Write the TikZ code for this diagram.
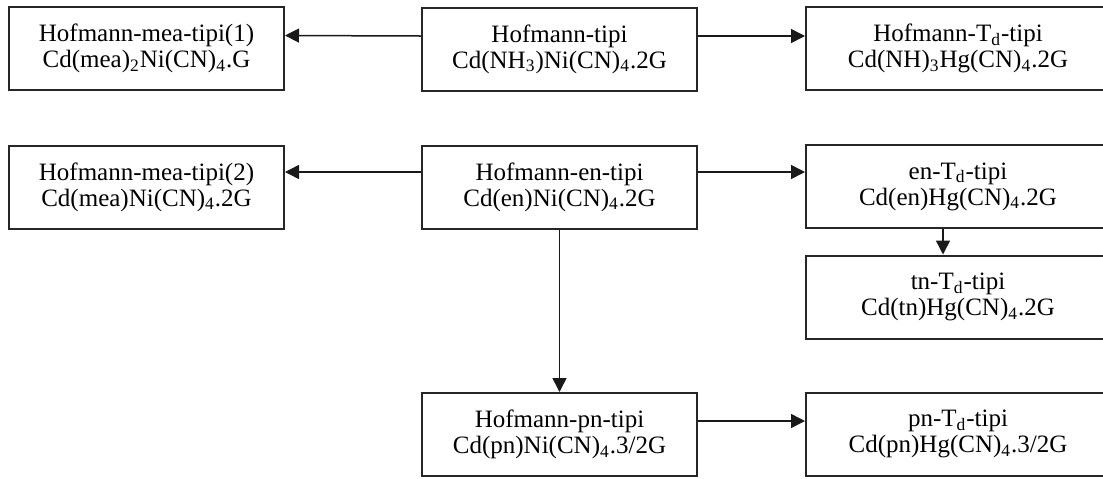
\documentclass[tikz,border=0pt]{standalone}
\usepackage{fontspec}
\setmainfont{Liberation Serif}
\usetikzlibrary{arrows.meta}
\begin{document}
\begin{tikzpicture}[x=0.5pt,y=-0.5pt,
  box/.style={draw=black!85, line width=1pt, fill=white, align=center,
    font=\fontsize{12.5pt}{13pt}\selectfont, inner sep=0pt,
    minimum width=137.5pt, minimum height=41.5pt},
  wbox/.style={box, minimum width=152pt},
  arr/.style={line width=0.75pt, draw=black!90,
    -{Triangle[length=7pt,width=7pt]}}]
\useasboundingbox (0,0) rectangle (1103,478);
\clip (0,0) rectangle (1103,478);
\fill[white] (0,0) rectangle (1103,478);

% first row
\node[box]  (mea1) at (146.5,48.5) {Hofmann-mea-tipi(1)\\Cd(mea)\textsubscript{2}Ni(CN)\textsubscript{4}.G};
\node[box]  (hof)  at (559.5,49)   {Hofmann-tipi\\Cd(NH\textsubscript{3})Ni(CN)\textsubscript{4}.2G};
\node[wbox] (hoftd) at (958,48.5)  {Hofmann-T\textsubscript{d}-tipi\\Cd(NH)\textsubscript{3}Hg(CN)\textsubscript{4}.2G};

% second row
\node[box]  (mea2) at (146.5,187)  {Hofmann-mea-tipi(2)\\Cd(mea)Ni(CN)\textsubscript{4}.2G};
\node[box]  (en)   at (559.5,187)  {Hofmann-en-tipi\\Cd(en)Ni(CN)\textsubscript{4}.2G};
\node[wbox] (entd) at (958,186.5)  {en-T\textsubscript{d}-tipi\\Cd(en)Hg(CN)\textsubscript{4}.2G};
\node[wbox] (tntd) at (958,297)    {tn-T\textsubscript{d}-tipi\\Cd(tn)Hg(CN)\textsubscript{4}.2G};

% bottom row
\node[box]  (pn)   at (559.5,434.5) {Hofmann-pn-tipi\\Cd(pn)Ni(CN)\textsubscript{4}.3/2G};
\node[wbox] (pntd) at (958,434)     {pn-T\textsubscript{d}-tipi\\Cd(pn)Hg(CN)\textsubscript{4}.3/2G};

% connectors
\draw[arr] ([yshift=6.5pt]hof.west) -- ([yshift=6.5pt]mea1.east);
\draw[arr] ([yshift=6.5pt]hof.east) -- ([yshift=6.5pt]hof.east -| hoftd.west);
\draw[arr] ([yshift=7.5pt]en.west) -- ([yshift=7.5pt]en.west -| mea2.east);
\draw[arr] ([yshift=7.5pt]en.east) -- ([yshift=7.5pt]en.east -| entd.west);
\draw[arr] ([xshift=-7.5pt]entd.south) -- ([xshift=-7.5pt]tntd.north);
\draw[arr] (en.south) -- (pn.north);
\draw[arr] ([yshift=6.75pt]pn.east) -- ([yshift=6.75pt]pn.east -| pntd.west);
\end{tikzpicture}
\end{document}
